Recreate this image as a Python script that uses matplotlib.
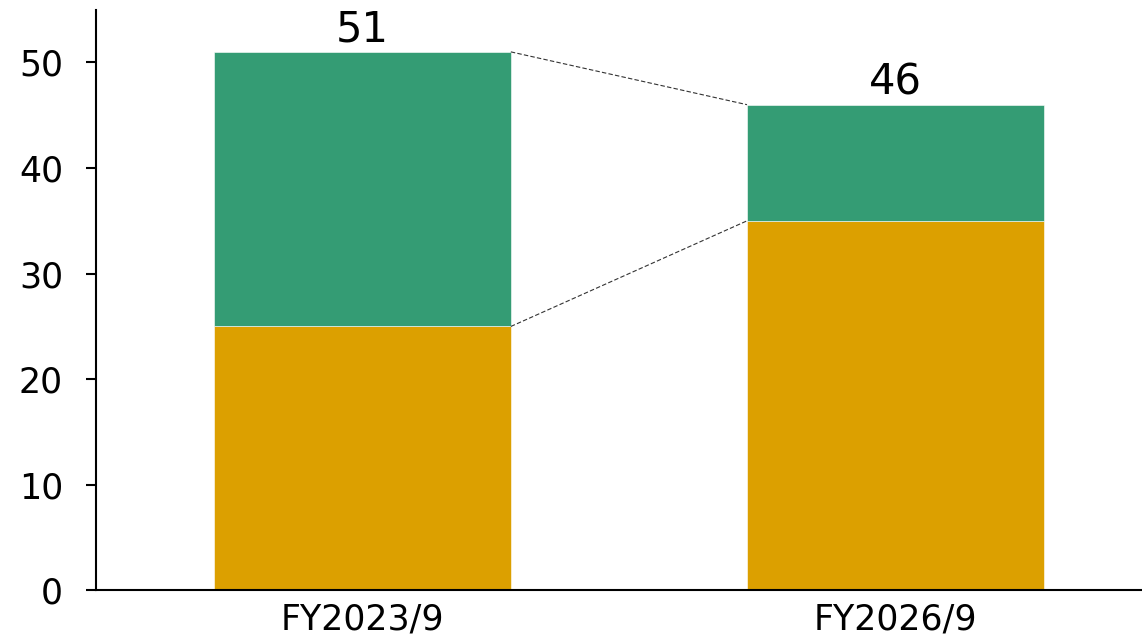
import matplotlib
matplotlib.use("Agg")
import matplotlib.pyplot as plt

# data
categories = ["FY2023/9", "FY2026/9"]
lower = [25, 35]
upper = [26, 11]
totals = [51, 46]

GOLD = "#DCA000"
GREEN = "#349C74"
BAR_W = 0.557

plt.rcParams["font.family"] = ["DejaVu Sans"]

fig = plt.figure(figsize=(11.42, 6.38), dpi=100)
ax = fig.add_axes([0.0844, 0.0745, 0.9156, 0.9104])

x = list(range(len(categories)))
ax.bar(x, lower, width=BAR_W, color=GOLD, edgecolor="white", linewidth=0.4)
ax.bar(x, upper, bottom=lower, width=BAR_W, color=GREEN,
       edgecolor="white", linewidth=0.4)

# dashed connectors between the bars
for y0, y1 in [(totals[0], totals[1]), (lower[0], lower[1])]:
    ax.plot([x[0] + BAR_W / 2, x[1] - BAR_W / 2], [y0, y1],
            color="#333333", linestyle=(0, (4, 2)), linewidth=0.8)

for xi, t in zip(x, totals):
    ax.annotate(str(t), xy=(xi, t), xytext=(0, 1), textcoords="offset points",
                ha="center", va="bottom", fontsize=30)

ax.set_xlim(-0.499, 1.4625)
ax.set_ylim(0, 55)
ax.set_yticks([0, 10, 20, 30, 40, 50])
ax.set_xticks(x)
ax.set_xticklabels(categories)

ax.spines["top"].set_visible(False)
ax.spines["right"].set_visible(False)
ax.spines["left"].set_linewidth(1.5)
ax.spines["bottom"].set_linewidth(1.5)
ax.tick_params(axis="y", labelsize=25, length=7, width=1.5, pad=17)
ax.tick_params(axis="x", labelsize=25, length=0, pad=9)

fig.savefig("out.png", dpi=100)
